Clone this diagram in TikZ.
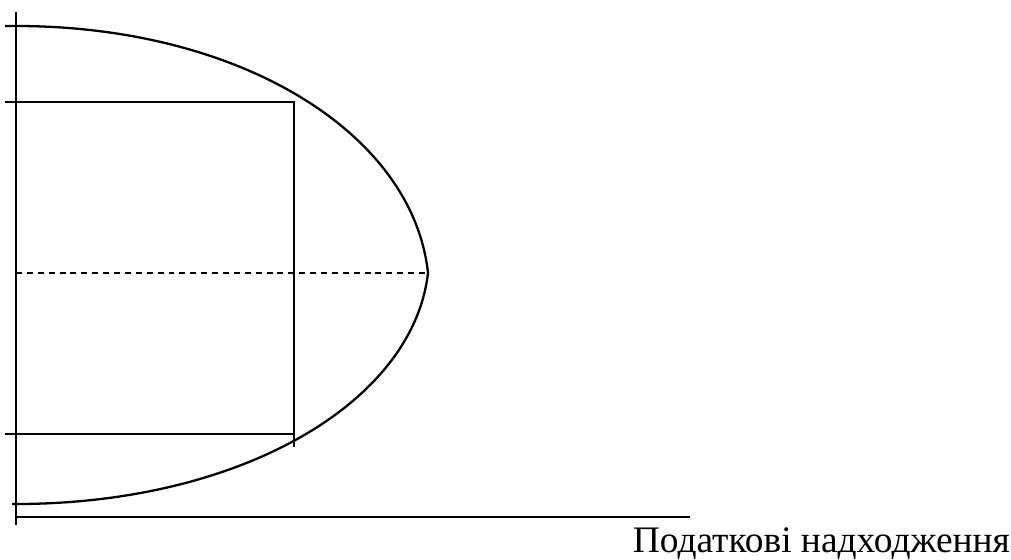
\documentclass[tikz,border=0pt]{standalone}
\usepackage{fontspec}
\setmainfont{Liberation Serif}
\usepackage{tikz}
\usetikzlibrary{positioning, calc}

\begin{document}
\begin{tikzpicture}[x=0.02cm, y=0.02cm, line width=1.3pt,
        halfline/.style={dash pattern=on 3.4pt off 2.8pt}]
        \useasboundingbox (0,0) rectangle (1011,559);
        % axes
        \coordinate (yTop) at (16,547);
        \coordinate (yBot) at (16,34);
        \coordinate (xLeft) at (17,42);
        \coordinate (xRight) at (690,42);
        \draw (yBot) -- (yTop);
        \draw (xLeft) -- (xRight);
        % curve
        \coordinate (capTop) at (16,533);
        \coordinate (tip) at (428,286);
        \coordinate (capBot) at (16,55);
        \draw (5,533) -- (capTop) .. controls (240,533) and (413,426) .. (tip)
            .. controls (413,156) and (240,55) .. (capBot) -- (12,55);
        % box
        \coordinate (boxTop) at (294,457);
        \coordinate (boxBot) at (294,125);
        \draw (5,457) -- (boxTop) -- (294,112);
        \draw (5,125) -- (boxBot);
        \draw[halfline] (16,286) -- (tip);
        \node[anchor=base east, inner sep=0pt, font=\fontsize{21.3pt}{25pt}\selectfont] (xlabel) at (1011,7) {Податкові надходження};
    \end{tikzpicture}
\end{document}
